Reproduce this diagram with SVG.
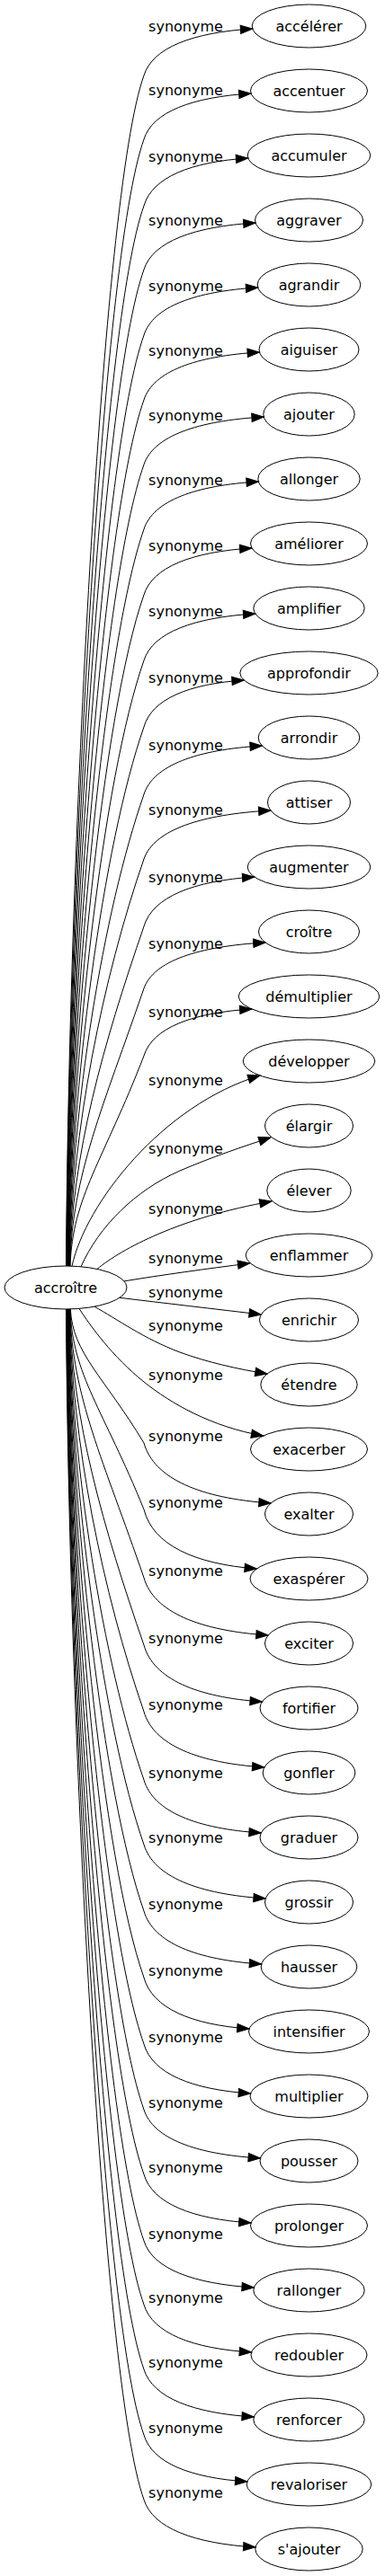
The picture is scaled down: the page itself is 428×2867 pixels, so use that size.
<svg xmlns="http://www.w3.org/2000/svg" width="428" height="2867" viewBox="0 0 428 2867">
<style>
text{font-family:"DejaVu Sans","Liberation Sans",sans-serif;font-size:16px;text-anchor:middle;fill:#000}
ellipse{fill:none;stroke:#000;stroke-width:1}
#edges path{fill:none;stroke:#000;stroke-width:1;marker-end:url(#ah)}
</style>
<defs>
<marker id="ah" markerWidth="14" markerHeight="10" refX="13.3" refY="4.7" orient="auto" markerUnits="userSpaceOnUse" overflow="visible"><path d="M0,0 L13.3,4.7 L0,9.4 z" fill="#000" stroke="#000" stroke-width="1"/></marker>
</defs>
<rect width="428" height="2867" fill="#fff"/>
<g id="edges">
<path d="M73.5,1409 C76.1,971.8 112.4,216 160,84 C169.7,52.8 214.3,36.2 280.7,32"/>
<path d="M73.8,1409 C76.4,995.2 112.6,287 160,155 C169.5,124.4 213.6,108.1 279,104"/>
<path d="M74.1,1409 C76.7,1019.6 112.8,361 160,229 C169.3,197.2 212.1,180.2 275.7,176"/>
<path d="M74.4,1409 C77,1043 112.9,432 160,300 C169.9,268.8 215.8,252.2 284,248"/>
<path d="M74.7,1409 C77.3,1067.1 113.1,505 160,373 C170.1,341.2 217,324.2 286.7,320"/>
<path d="M75,1409 C77.6,1090.9 113.3,577 160,445 C170.3,413.2 217.8,396.2 288.4,392"/>
<path d="M75.3,1409 C77.8,1114.6 113.4,649 160,517 C170.7,485.2 219.9,468.2 293.2,464"/>
<path d="M75.6,1409 C78.1,1138.4 113.6,721 160,589 C170.2,557.2 217.3,540.2 287.3,536"/>
<path d="M75.9,1409 C78.4,1162.5 113.7,794 160,662 C169.6,630.8 214,614.2 279.9,610"/>
<path d="M76.2,1409 C78.7,1186.6 113.9,867 160,735 C169.9,703.8 215.7,687.2 283.8,683"/>
<path d="M76.5,1409 C79,1211 114.1,941 160,809 C168.9,777.8 210,761.2 271.2,757"/>
<path d="M76.8,1409 C79.3,1235.7 114.2,1016 160,884 C170.5,851.6 219.1,834.3 291.3,830"/>
<path d="M77.1,1409 C79.6,1259.5 114.4,1088 160,956 C171.3,923.6 223.4,906.3 300.9,902"/>
<path d="M77.4,1409 C79.9,1284.3 114.6,1163 160,1031 C169.8,998 215.3,980.4 282.8,976"/>
<path d="M77.7,1409 C80.2,1307 114.7,1232 160,1100 C170.8,1069.4 220.8,1053.1 295,1049"/>
<path d="M78,1409 C80.5,1331.8 114.9,1292 160,1175 C169.6,1143.8 214,1127.2 279.9,1123"/>
<path d="M80,1409.1 C95,1340 180,1230 289,1197"/>
<path d="M90,1409.8 C110,1365 150,1325 200,1303 C235,1288 270,1276 301,1266"/>
<path d="M108,1412.4 C135,1390 200,1355 302,1337"/>
<path d="M138,1425.9 C180,1419 230,1412 277.7,1406"/>
<path d="M133,1444.3 C180,1450 240,1457 290.3,1463"/>
<path d="M105,1454.2 C130,1468 160,1490 200,1505 C230,1516 265,1524 297,1529"/>
<path d="M88,1456.4 C100,1475 125,1510 160,1538 C190,1562 235,1588 292.7,1598"/>
<path d="M78.3,1457 C80.8,1506.2 115.1,1531.5 160,1606 C171.3,1646.2 223.5,1667.6 301.1,1673"/>
<path d="M78,1457 C80.5,1530.6 114.9,1568.5 160,1680 C170,1719.6 216.4,1740.7 285.3,1746"/>
<path d="M77.7,1457 C80.2,1555.7 114.7,1624 160,1756 C171,1794.4 222.1,1814.9 298.1,1820"/>
<path d="M77.4,1457 C79.9,1580.4 114.6,1699 160,1831 C170.5,1868.8 219.1,1889 291.3,1894"/>
<path d="M77.1,1457 C79.6,1604.8 114.4,1773 160,1905 C170.7,1942.2 220.2,1962 293.8,1967"/>
<path d="M76.8,1457 C79.3,1629.9 114.2,1849 160,1981 C170.4,2016.4 218.6,2035.3 290.2,2040"/>
<path d="M76.5,1457 C79,1653.7 114.1,1921 160,2053 C170.8,2089 220.8,2108.2 295.2,2113"/>
<path d="M76.2,1457 C78.7,1678.1 113.9,1995 160,2127 C170.4,2162.4 218.8,2181.3 290.6,2186"/>
<path d="M75.9,1457 C78.4,1702.5 113.7,2069 160,2201 C169.4,2235.2 212.7,2253.4 277,2258"/>
<path d="M75.6,1457 C78.1,1726.9 113.6,2143 160,2275 C169.5,2308 213.3,2325.6 278.5,2330"/>
<path d="M75.3,1457 C77.8,1751 113.4,2216 160,2348 C170.4,2380.4 218.2,2397.7 289.4,2402"/>
<path d="M75,1457 C77.6,1774.8 113.2,2288 160,2420 C169.5,2452.4 213.6,2469.7 279,2474"/>
<path d="M74.7,1457 C77.3,1799.2 113.1,2362 160,2494 C169.8,2525.2 215,2541.8 282.3,2546"/>
<path d="M74.4,1457 C77,1822.6 112.9,2433 160,2565 C169.6,2596.8 213.8,2613.8 279.5,2618"/>
<path d="M74.1,1457 C76.7,1846.4 112.8,2505 160,2637 C169.8,2668.8 215,2685.8 282.3,2690"/>
<path d="M73.8,1457 C76.4,1870.5 112.6,2578 160,2710 C169.2,2741.2 211.7,2757.8 274.8,2762"/>
<path d="M73.5,1457 C76.1,1894.3 112.4,2650 160,2782 C169.9,2813.8 215.8,2830.8 283.9,2835"/>
<g id="edge-labels">
<text x="206.5" y="35">synonyme</text>
<text x="206.5" y="106">synonyme</text>
<text x="206.5" y="180">synonyme</text>
<text x="206.5" y="251">synonyme</text>
<text x="206.5" y="324">synonyme</text>
<text x="206.5" y="396">synonyme</text>
<text x="206.5" y="468">synonyme</text>
<text x="206.5" y="540">synonyme</text>
<text x="206.5" y="613">synonyme</text>
<text x="206.5" y="686">synonyme</text>
<text x="206.5" y="760">synonyme</text>
<text x="206.5" y="835">synonyme</text>
<text x="206.5" y="907">synonyme</text>
<text x="206.5" y="982">synonyme</text>
<text x="206.5" y="1056">synonyme</text>
<text x="206.5" y="1132">synonyme</text>
<text x="206.5" y="1208">synonyme</text>
<text x="206.5" y="1284">synonyme</text>
<text x="206.5" y="1351">synonyme</text>
<text x="206.5" y="1406">synonyme</text>
<text x="206.5" y="1444">synonyme</text>
<text x="206.5" y="1481">synonyme</text>
<text x="206.5" y="1536">synonyme</text>
<text x="206.5" y="1604">synonyme</text>
<text x="206.5" y="1678">synonyme</text>
<text x="206.5" y="1754">synonyme</text>
<text x="206.5" y="1829">synonyme</text>
<text x="206.5" y="1903">synonyme</text>
<text x="206.5" y="1979">synonyme</text>
<text x="206.5" y="2051">synonyme</text>
<text x="206.5" y="2125">synonyme</text>
<text x="206.5" y="2199">synonyme</text>
<text x="206.5" y="2273">synonyme</text>
<text x="206.5" y="2346">synonyme</text>
<text x="206.5" y="2418">synonyme</text>
<text x="206.5" y="2492">synonyme</text>
<text x="206.5" y="2563">synonyme</text>
<text x="206.5" y="2635">synonyme</text>
<text x="206.5" y="2708">synonyme</text>
<text x="206.5" y="2780">synonyme</text>
</g>
</g>
<g id="node-accroitre"><ellipse cx="73" cy="1433" rx="68" ry="24"/><text x="73" y="1439">accroître</text></g>
<g id="node-accelerer"><ellipse cx="343.5" cy="29" rx="63.3" ry="24"/><text x="343.5" y="35">accélérer</text></g>
<g id="node-accentuer"><ellipse cx="343.5" cy="101" rx="65" ry="24"/><text x="343.5" y="107">accentuer</text></g>
<g id="node-accumuler"><ellipse cx="343.5" cy="173" rx="68.3" ry="24"/><text x="343.5" y="179">accumuler</text></g>
<g id="node-aggraver"><ellipse cx="343.5" cy="245" rx="60" ry="24"/><text x="343.5" y="251">aggraver</text></g>
<g id="node-agrandir"><ellipse cx="343.5" cy="317" rx="57.3" ry="24"/><text x="343.5" y="323">agrandir</text></g>
<g id="node-aiguiser"><ellipse cx="343.5" cy="389" rx="55.5" ry="24"/><text x="343.5" y="395">aiguiser</text></g>
<g id="node-ajouter"><ellipse cx="343.5" cy="461" rx="50.7" ry="24"/><text x="343.5" y="467">ajouter</text></g>
<g id="node-allonger"><ellipse cx="343.5" cy="533" rx="56.7" ry="24"/><text x="343.5" y="539">allonger</text></g>
<g id="node-ameliorer"><ellipse cx="343.5" cy="605" rx="65" ry="24"/><text x="343.5" y="611">améliorer</text></g>
<g id="node-amplifier"><ellipse cx="343.5" cy="677" rx="61.7" ry="24"/><text x="343.5" y="683">amplifier</text></g>
<g id="node-approfondir"><ellipse cx="343.5" cy="749" rx="76.7" ry="24"/><text x="343.5" y="755">approfondir</text></g>
<g id="node-arrondir"><ellipse cx="343.5" cy="821" rx="56.3" ry="24"/><text x="343.5" y="827">arrondir</text></g>
<g id="node-attiser"><ellipse cx="343.5" cy="893" rx="46" ry="24"/><text x="343.5" y="899">attiser</text></g>
<g id="node-augmenter"><ellipse cx="343.5" cy="965" rx="68.3" ry="24"/><text x="343.5" y="971">augmenter</text></g>
<g id="node-croitre"><ellipse cx="343.5" cy="1037" rx="56" ry="24"/><text x="343.5" y="1043">croître</text></g>
<g id="node-demultiplier"><ellipse cx="343.5" cy="1109" rx="78.3" ry="24"/><text x="343.5" y="1115">démultiplier</text></g>
<g id="node-developper"><ellipse cx="343.5" cy="1181" rx="73.3" ry="24"/><text x="343.5" y="1187">développer</text></g>
<g id="node-elargir"><ellipse cx="343.5" cy="1253" rx="49" ry="24"/><text x="343.5" y="1259">élargir</text></g>
<g id="node-elever"><ellipse cx="343.5" cy="1325" rx="46.7" ry="24"/><text x="343.5" y="1331">élever</text></g>
<g id="node-enflammer"><ellipse cx="343.5" cy="1397" rx="70.3" ry="24"/><text x="343.5" y="1403">enflammer</text></g>
<g id="node-enrichir"><ellipse cx="343.5" cy="1469" rx="55" ry="24"/><text x="343.5" y="1475">enrichir</text></g>
<g id="node-etendre"><ellipse cx="343.5" cy="1541" rx="53.7" ry="24"/><text x="343.5" y="1547">étendre</text></g>
<g id="node-exacerber"><ellipse cx="343.5" cy="1613" rx="65" ry="24"/><text x="343.5" y="1619">exacerber</text></g>
<g id="node-exalter"><ellipse cx="343.5" cy="1685" rx="49" ry="24"/><text x="343.5" y="1691">exalter</text></g>
<g id="node-exasperer"><ellipse cx="343.5" cy="1757" rx="65.5" ry="24"/><text x="343.5" y="1763">exaspérer</text></g>
<g id="node-exciter"><ellipse cx="343.5" cy="1829" rx="49" ry="24"/><text x="343.5" y="1835">exciter</text></g>
<g id="node-fortifier"><ellipse cx="343.5" cy="1901" rx="54.5" ry="24"/><text x="343.5" y="1907">fortifier</text></g>
<g id="node-gonfler"><ellipse cx="343.5" cy="1973" rx="51.3" ry="24"/><text x="343.5" y="1979">gonfler</text></g>
<g id="node-graduer"><ellipse cx="343.5" cy="2045" rx="54.5" ry="24"/><text x="343.5" y="2051">graduer</text></g>
<g id="node-grossir"><ellipse cx="343.5" cy="2117" rx="49" ry="24"/><text x="343.5" y="2123">grossir</text></g>
<g id="node-hausser"><ellipse cx="343.5" cy="2189" rx="53.3" ry="24"/><text x="343.5" y="2195">hausser</text></g>
<g id="node-intensifier"><ellipse cx="343.5" cy="2261" rx="67" ry="24"/><text x="343.5" y="2267">intensifier</text></g>
<g id="node-multiplier"><ellipse cx="343.5" cy="2333" rx="65.5" ry="24"/><text x="343.5" y="2339">multiplier</text></g>
<g id="node-pousser"><ellipse cx="343.5" cy="2405" rx="54.5" ry="24"/><text x="343.5" y="2411">pousser</text></g>
<g id="node-prolonger"><ellipse cx="343.5" cy="2477" rx="65" ry="24"/><text x="343.5" y="2483">prolonger</text></g>
<g id="node-rallonger"><ellipse cx="343.5" cy="2549" rx="61.7" ry="24"/><text x="343.5" y="2555">rallonger</text></g>
<g id="node-redoubler"><ellipse cx="343.5" cy="2621" rx="64.5" ry="24"/><text x="343.5" y="2627">redoubler</text></g>
<g id="node-renforcer"><ellipse cx="343.5" cy="2693" rx="61.7" ry="24"/><text x="343.5" y="2699">renforcer</text></g>
<g id="node-revaloriser"><ellipse cx="343.5" cy="2765" rx="69.3" ry="24"/><text x="343.5" y="2771">revaloriser</text></g>
<g id="node-sajouter"><ellipse cx="343.5" cy="2837" rx="59.7" ry="24"/><text x="343.5" y="2843">s'ajouter</text></g>
</svg>
